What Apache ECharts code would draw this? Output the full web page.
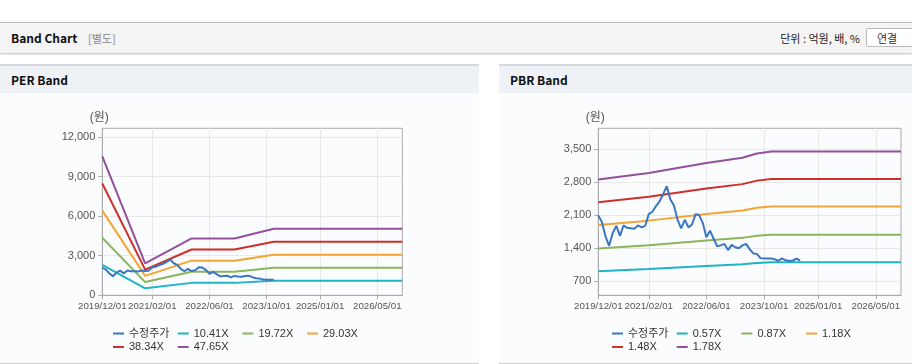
<!DOCTYPE html>
<html>
<head>
<meta charset="utf-8">
<script src="https://cdn.jsdelivr.net/npm/echarts@6/dist/echarts.min.js"></script>
<style>
  body { margin: 0; width: 912px; height: 364px; overflow: hidden; background: #fff; position: relative;
         font-family: "Noto Sans CJK KR", "Liberation Sans", sans-serif; }
  .topbar { position: absolute; left: 0; top: 22px; width: 912px; height: 30px; background: #f4f4f4;
            border-top: 1px solid #b9b9b9; box-shadow: 0 1px 2px #bbb; }
  .topbar .title { position: absolute; left: 11px; top: 6px; font-size: 12px; font-weight: bold; color: #111; }
  .topbar .sub { position: absolute; left: 88px; top: 7px; font-size: 11px; color: #888; }
  .topbar .unit { position: absolute; right: 52px; top: 7px; font-size: 11px; color: #222; }
  .topbar .btn { position: absolute; left: 866px; top: 5px; width: 52px; height: 19px; background: #fff;
                 border: 1px solid #bbb; border-radius: 2px; font-size: 11px; line-height: 18px; padding-left: 10px; color: #333; box-sizing: border-box; }
  .panel { position: absolute; top: 64px; height: 297px; background: #fbfcfd; border-top: 2px solid #d5d8dd;
           border-bottom: 1px solid #d0d0d0; }
  .panel .head { height: 27px; background: #eef2f7; font-size: 12px; font-weight: bold; line-height: 28px;
                 padding-left: 11px; color: #111; }
  .chart { position: absolute; top: 93px; height: 269px; }
</style>
</head>
<body>
<div class="topbar">
  <span class="title">Band Chart</span>
  <span class="sub">[별도]</span>
  <span class="unit">단위 : 억원, 배, %</span>
  <span class="btn">연결</span>
</div>
<div class="panel" style="left:0;width:479px"><div class="head">PER Band</div></div>
<div class="panel" style="left:499px;width:413px"><div class="head">PBR Band</div></div>
<div class="chart" id="per" style="left:0;width:479px"></div>
<div class="chart" id="pbr" style="left:499px;width:413px"></div>
<script>
// monthly categories 2019/12 .. 2026/12
const months = [];
for (let y = 2019, m = 12; y < 2027; ) {
  months.push(y + "/" + String(m).padStart(2, "0") + "/01");
  m++; if (m > 12) { m = 1; y++; }
}
const xTickLabels = ["2019/12/01", "2021/02/01", "2022/06/01", "2023/10/01", "2025/01/01", "2026/05/01"];

// 수정주가 (monthly, 2019/12 ~ 2024/08)
const priceValues = [2090, 1950, 1650, 1450, 1720, 1870, 1660, 1880, 1830, 1820, 1810, 1880, 1840, 1870,
  2120, 2170, 2290, 2390, 2540, 2710, 2430, 2300, 2000, 1820, 2000, 1840, 1900, 2120, 2100, 1930,
  1630, 1770, 1600, 1440, 1460, 1490, 1360, 1470, 1420, 1400, 1460, 1490, 1380, 1290, 1280, 1190,
  1180, 1180, 1180, 1165, 1135, 1185, 1145, 1130, 1140, 1180, 1140];
const perPriceCount = 49;

// PER band break points
const perDates = ["2019/12/01", "2020/12/01", "2022/01/01", "2023/01/01", "2023/12/01", "2026/12/01"];
const per1041 = [2301, 529, 942, 942, 1101, 1101];
const per1972 = [4358, 1002, 1785, 1785, 2086, 2086];
const per2903 = [6416, 1475, 2627, 2627, 3071, 3071];
const per3834 = [8473, 1948, 3470, 3470, 4056, 4056];
const per4765 = [10531, 2421, 4312, 4312, 5041, 5041];
const perNames = ["수정주가", "10.41X", "19.72X", "29.03X", "38.34X", "47.65X"];
const perTicks = [0, 3000, 6000, 9000, 12000];

// PBR band break points
const pbrDates = ["2019/12/01", "2021/02/01", "2022/06/01", "2023/04/01", "2023/08/01", "2023/12/01", "2026/12/01"];
const pbr057 = [913, 958, 1025, 1060, 1089, 1102, 1102];
const pbr087 = [1393, 1462, 1564, 1618, 1662, 1682, 1682];
const pbr118 = [1889, 1982, 2122, 2195, 2254, 2281, 2281];
const pbr148 = [2370, 2486, 2661, 2753, 2827, 2861, 2861];
const pbr178 = [2850, 2990, 3200, 3310, 3400, 3440, 3440];
const pbrNames = ["수정주가", "0.57X", "0.87X", "1.18X", "1.48X", "1.78X"];
const pbrTicks = [700, 1400, 2100, 2800, 3500];

const colors = ["#3a76c4", "#1fb3c6", "#8ab55a", "#f4a532", "#cd2f2a", "#93509b"];
const font = "Liberation Sans, Noto Sans CJK KR, sans-serif";
// legend slots: [left, top] for each series name
const legendSlots = [[108, 230], [172.7, 230], [237.4, 230], [302, 230], [108, 243.5], [172.7, 243.5]];

function pairs(dates, vals) { return dates.map((d, i) => [d, vals[i]]); }
function isTick(i, v) { return xTickLabels.indexOf(v) >= 0; }

function buildOption(names, bands, bandDates, price, y, gridLeft, gridRight) {
  const series = [{ name: names[0], data: price.map((v, i) => [months[i], v]) }];
  bands.forEach((b, k) => series.push({ name: names[k + 1], data: pairs(bandDates, b) }));
  series.forEach(s => { s.type = "line"; s.symbol = "none"; s.lineStyle = { width: 2 }; });
  series.reverse();
  const legends = names.map((n, i) => ({
    left: legendSlots[i][0], top: legendSlots[i][1], data: [n],
    itemWidth: 11, itemHeight: 2, icon: "rect", selectedMode: false,
    textStyle: { fontSize: 11, color: "#333", fontFamily: font }
  }));
  return {
    color: colors.slice().reverse(),
    animation: false,
    grid: { left: gridLeft, right: gridRight, top: 35.3, bottom: 66.7, show: true, borderColor: "#aaa", borderWidth: 1 },
    legend: legends,
    xAxis: {
      type: "category", data: months, boundaryGap: false,
      axisLine: { lineStyle: { color: "#aaa" } },
      axisTick: { interval: isTick, length: 4, lineStyle: { color: "#aaa" } },
      // every category gets a label slot, only the tick dates get text
      axisLabel: { interval: 0, margin: 6, color: "#555", fontSize: 9.7, fontFamily: font,
        formatter: v => (xTickLabels.indexOf(v) >= 0 ? v : "") },
      splitLine: { show: true, interval: isTick, lineStyle: { color: "#e8e8e8" } }
    },
    yAxis: {
      type: "value", min: y.min, max: y.max,
      name: "(원)", nameLocation: "end", nameGap: 5,
      nameTextStyle: { color: "#555", fontSize: 12, fontFamily: font, padding: [0, 6, 0, 0] },
      axisLine: { show: true, lineStyle: { color: "#aaa" } },
      axisTick: { show: true, length: 4, lineStyle: { color: "#aaa" }, customValues: y.ticks },
      axisLabel: { margin: 7, color: "#555", fontSize: 11, fontFamily: font, customValues: y.ticks,
        formatter: v => v.toLocaleString("en-US") },
      splitLine: { lineStyle: { color: "#e8e8e8" } }
    },
    series: series
  };
}

const perChart = echarts.init(document.getElementById("per"));
perChart.setOption(buildOption(perNames, [per1041, per1972, per2903, per3834, per4765], perDates,
  priceValues.slice(0, perPriceCount), { min: 0, max: 12660, ticks: perTicks }, 102.3, 76.7));

const pbrChart = echarts.init(document.getElementById("pbr"));
pbrChart.setOption(buildOption(pbrNames, [pbr057, pbr087, pbr118, pbr148, pbr178], pbrDates,
  priceValues, { min: 405, max: 3932, ticks: pbrTicks }, 99.3, 11));
</script>
</body>
</html>
